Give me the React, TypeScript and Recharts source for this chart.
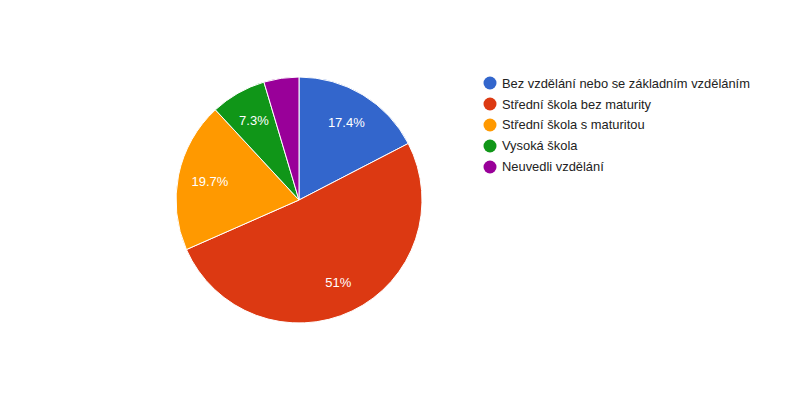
import React from 'react';
import { PieChart, Pie, Cell } from 'recharts';

const categories = [
  'Bez vzdělání nebo se základním vzděláním',
  'Střední škola bez maturity',
  'Střední škola s maturitou',
  'Vysoká škola',
  'Neuvedli vzdělání',
];
const shares = [17.4, 51, 19.7, 7.3, 4.6];
const colors = ['#3366cc', '#dc3912', '#ff9900', '#109618', '#990099'];

const data = categories.map((name, i) => ({ name, value: shares[i] }));

const RAD = Math.PI / 180;

const renderLabel = (props: any) => {
  const { cx, cy, midAngle, outerRadius, value } = props;
  if (value < 5) return null;
  const r = outerRadius * 0.74;
  const x = cx + r * Math.cos(-midAngle * RAD);
  const y = cy + r * Math.sin(-midAngle * RAD);
  return (
    <text x={x} y={y} fill="#ffffff" fontSize={13} textAnchor="middle" dominantBaseline="central"
      fontFamily="'Liberation Sans', Arial, sans-serif">
      {`${value}%`}
    </text>
  );
};

const ChartLegend = () => (
  <div style={{ position: 'absolute', left: 483, top: 73, fontFamily: "'Liberation Sans', Arial, sans-serif", fontSize: 12.9, color: '#222' }}>
    {categories.map((c, i) => (
      <div key={c} style={{ display: 'flex', alignItems: 'center', height: 20.8 }}>
        <svg width={14} height={14} style={{ marginRight: 5 }}>
          <circle cx={7} cy={7} r={6.5} fill={colors[i]} />
        </svg>
        <span>{c}</span>
      </div>
    ))}
  </div>
);

export default function App() {
  return (
    <div style={{ position: 'absolute', left: 0, top: 0, width: 800, height: 400, background: '#fff' }}>
      <PieChart width={800} height={400} margin={{ top: 0, right: 0, bottom: 0, left: 0 }}>
        <Pie
          data={data}
          dataKey="value"
          nameKey="name"
          cx={299}
          cy={200}
          outerRadius={123}
          startAngle={90}
          endAngle={-270}
          stroke="#ffffff"
          strokeWidth={1}
          label={renderLabel}
          labelLine={false}
          isAnimationActive={false}
        >
          {data.map((d, i) => (
            <Cell key={d.name} fill={colors[i]} />
          ))}
        </Pie>
      </PieChart>
      <ChartLegend />
    </div>
  );
}
